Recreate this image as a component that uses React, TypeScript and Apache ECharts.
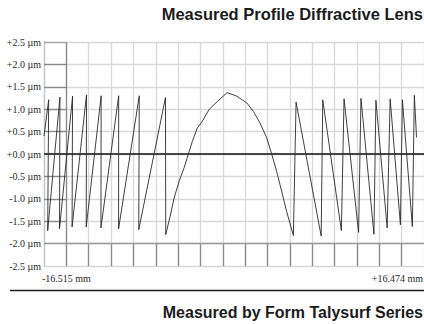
import React, { useEffect, useRef } from "react";
import * as echarts from "echarts";

// Profile trace: position along the lens (mm) and measured height (µm)
const profileX = [
  -16.515, -16.109, -16.195, -15.132, -15.167, -14.035, -14.078, -12.825, -12.85,
  -11.554, -11.571, -10.033, -10.04, -8.244, -8.287, -5.971, -5.945,
  -5.504, -5.219, -4.787, -4.355, -3.983, -3.637, -3.205, -2.773, -2.194, -1.477,
  -0.612, 0.226, 1.09, 1.669, 2.24, 2.819, 3.251, 3.683, 4.115, 4.547, 5.135,
  5.368, 7.546, 7.685, 9.301, 9.534, 10.796, 11.003, 12.127, 12.3, 13.276, 13.536,
  14.426, 14.599, 15.463, 15.636, 15.826,
];
const profileY = [
  0.4, 1.21, -1.71, 1.27, -1.67, 1.29, -1.63, 1.32, -1.63,
  1.3, -1.65, 1.3, -1.67, 1.3, -1.69, 1.26, -1.8,
  -1.32, -0.98, -0.61, -0.31, 0.0, 0.28, 0.58, 0.73, 0.99, 1.17,
  1.37, 1.29, 1.14, 0.95, 0.69, 0.36, 0.0, -0.39, -0.83, -1.28, -1.82,
  1.16, -1.83, 1.21, -1.71, 1.23, -1.75, 1.24, -1.79, 1.2, -1.65, 1.23,
  -1.58, 1.21, -1.62, 1.31, 0.37,
];

const X_MIN = -16.515;
const X_MAX = 16.474;
const Y_MIN = -2.5;
const Y_MAX = 2.5;
const Y_STEP = 0.5;
const COLUMNS = 17;
const xLabels = ["-16.515 mm", "+16.474 mm"];
const titleTop = "Measured Profile Diffractive Lens";
const titleBottom = "Measured by Form Talysurf Series";
const tickValues = [2.0, 1.5, 1.0, 0.5, -0.5, -1.0, -1.5];

export default function App() {
  const ref = useRef<HTMLDivElement>(null);
  useEffect(() => {
    if (!ref.current) return;
    const chart = echarts.init(ref.current, undefined, { renderer: "svg" });
    const dark = { color: "#8a8a8a", width: 1.3, type: "solid" as const };
    const decor: any[] = [];
    // first column tick marks
    tickValues.forEach((v) => {
      decor.push([{ coord: [0, v], lineStyle: dark }, { coord: [1, v] }]);
    });
    // first column right border
    decor.push([{ coord: [1, -2.0], lineStyle: dark }, { coord: [1, Y_MAX] }]);
    // first column top border
    decor.push([{ coord: [0, Y_MAX], lineStyle: { ...dark, color: "#a8a8a8" } }, { coord: [1, Y_MAX] }]);
    // bottom band vertical ticks
    for (let k = 1; k < COLUMNS; k++) {
      decor.push([{ coord: [k, Y_MIN], lineStyle: dark }, { coord: [k, -2.0] }]);
    }
    // -2.0 line
    decor.push([{ coord: [0, -2.0], lineStyle: { ...dark, color: "#9a9a9a" } }, { coord: [COLUMNS, -2.0] }]);
    // zero line
    decor.push([{ coord: [0, 0], lineStyle: { color: "#111", width: 1.5, type: "solid" } }, { coord: [COLUMNS, 0] }]);

    chart.setOption({
      animation: false,
      grid: { left: 44, top: 42, width: 382, height: 224, containLabel: false },
      xAxis: [
        { type: "value", min: X_MIN, max: X_MAX, show: false },
        {
          type: "value",
          min: 0,
          max: COLUMNS,
          interval: 1,
          position: "bottom",
          axisLine: { show: false },
          axisTick: { show: false },
          axisLabel: { show: false },
          splitLine: { show: true, lineStyle: { color: "#d8d8d8", width: 1.3 } },
        },
      ],
      yAxis: {
        type: "value",
        min: Y_MIN,
        max: Y_MAX,
        interval: Y_STEP,
        axisLine: { show: true, onZero: false, lineStyle: { color: "#c4c4c4", width: 1.3 } },
        axisTick: { show: false },
        axisLabel: {
          formatter: (v: number) => (v >= 0 ? "+" : "") + v.toFixed(1) + " µm",
          fontFamily: "Liberation Serif",
          fontSize: 10,
          color: "#2a2a2a",
          margin: 3,
        },
        splitLine: { show: true, lineStyle: { color: "#d8d8d8", width: 1.3 } },
      },
      series: [
        {
          type: "line",
          xAxisIndex: 1,
          data: [[0, Y_MIN]],
          showSymbol: false,
          silent: true,
          lineStyle: { width: 0 },
          z: 3,
          markLine: {
            symbol: "none",
            silent: true,
            label: { show: false },
            data: decor,
          },
        },
        {
          type: "line",
          xAxisIndex: 0,
          data: profileX.map((x, i) => [x, profileY[i]]),
          showSymbol: false,
          lineStyle: { color: "#2a2a2a", width: 0.9 },
          z: 5,
        },
      ],
      graphic: [
        {
          type: "text",
          x: 423,
          y: 5,
          style: { text: titleTop, font: 'bold 16.5px "Liberation Sans"', fill: "#1c1c1c", align: "right" },
        },
        {
          type: "text",
          x: 42,
          y: 278,
          style: { text: xLabels[0], font: '10px "Liberation Serif"', fill: "#2a2a2a", verticalAlign: "middle" },
        },
        {
          type: "text",
          x: 423,
          y: 278,
          style: { text: xLabels[1], font: '10px "Liberation Serif"', fill: "#2a2a2a", align: "right", verticalAlign: "middle" },
        },
        {
          type: "line",
          shape: { x1: 10, y1: 290.5, x2: 424, y2: 290.5 },
          style: { stroke: "#1c1c1c", lineWidth: 1.5 },
        },
        {
          type: "text",
          x: 423,
          y: 304,
          style: { text: titleBottom, font: 'bold 16px "Liberation Sans"', fill: "#1c1c1c", align: "right" },
        },
      ],
    });
    return () => chart.dispose();
  }, []);
  return (
    <div
      ref={ref}
      style={{ position: "absolute", left: 0, top: 0, width: 424, height: 324, background: "#fff" }}
    />
  );
}
